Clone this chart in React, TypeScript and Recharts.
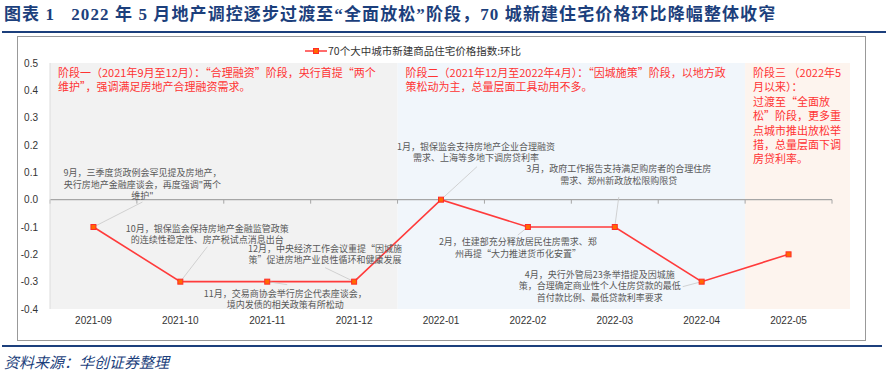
import React from "react";
import {
  LineChart,
  Line,
  XAxis,
  YAxis,
  Legend,
  ReferenceArea,
  ReferenceLine,
  ReferenceDot,
} from "recharts";

// ---------- data ----------
const months = [
  "2021-09",
  "2021-10",
  "2021-11",
  "2021-12",
  "2022-01",
  "2022-02",
  "2022-03",
  "2022-04",
  "2022-05",
];
const momChange = [-0.1, -0.3, -0.3, -0.3, 0.0, -0.1, -0.1, -0.3, -0.2];
const yTicks = [0.5, 0.4, 0.3, 0.2, 0.1, 0.0, -0.1, -0.2, -0.3, -0.4];
const seriesName = "70个大中城市新建商品住宅价格指数:环比";

const titleText =
  "图表 1   2022 年 5 月地产调控逐步过渡至“全面放松”阶段，70 城新建住宅价格环比降幅整体收窄";
const sourceText = "资料来源：华创证券整理";

const stages = [
  {
    from: "2021-09",
    to: "2021-12",
    fill: "#f2f2f2",
    extend: 0,
    lines: [
      "阶段一（2021年9月至12月）：“合理融资”阶段，央行首提“两个",
      "维护”，强调满足房地产合理融资需求。",
    ],
  },
  {
    from: "2022-01",
    to: "2022-04",
    fill: "#f1f6fb",
    extend: 0,
    lines: [
      "阶段二（2021年12月至2022年4月）：“因城施策”阶段，以地方政",
      "策松动为主，总量层面工具动用不多。",
    ],
  },
  {
    from: "2022-05",
    to: "2022-05",
    fill: "#fdf4ee",
    extend: 18,
    lines: [
      "阶段三 （2022年5",
      "月以来）：",
      "过渡至“全面放",
      "松”阶段，更多重",
      "点城市推出放松举",
      "措，总量层面下调",
      "房贷利率。",
    ],
  },
];

const annotations = [
  {
    at: "2021-09",
    value: -0.1,
    tx: 49,
    ty: -54,
    lx: 49,
    ly: -25,
    lines: [
      "9月，三季度货政例会罕见提及房地产，",
      "央行房地产金融座谈会，再度强调\"两个",
      "维护\"",
    ],
  },
  {
    at: "2021-10",
    value: -0.3,
    tx: 27,
    ty: -53,
    lx: 27,
    ly: -35,
    lines: ["10月，银保监会保持房地产金融监管政策", "的连续性稳定性、房产税试点消息出台"],
  },
  {
    at: "2021-12",
    value: -0.3,
    tx: -29,
    ty: -33,
    lx: -29,
    ly: -14,
    lines: ["12月，中央经济工作会议重提“因城施", "策”促进房地产业良性循环和健康发展"],
  },
  {
    at: "2021-11",
    value: -0.3,
    tx: 18,
    ty: 12,
    lx: 20,
    ly: 3,
    lines: ["11月，交易商协会举行房企代表座谈会，", "境内发债的相关政策有所松动"],
  },
  {
    at: "2022-01",
    value: 0.0,
    tx: 35,
    ty: -53,
    lx: 36,
    ly: -33,
    lines: ["1月，银保监会支持房地产企业合理融资", "需求、上海等多地下调房贷利率"],
  },
  {
    at: "2022-03",
    value: -0.1,
    tx: 4,
    ty: -58,
    lx: 4,
    ly: -30,
    lines: ["3月，政府工作报告支持满足购房者的合理住房", "需求、郑州新政放松限购限贷"],
  },
  {
    at: "2022-02",
    value: -0.1,
    tx: -10,
    ty: 15,
    lx: -10,
    ly: 8,
    lines: ["2月，住建部充分释放居民住房需求、郑", "州再提“大力推进货币化安置”"],
  },
  {
    at: "2022-04",
    value: -0.3,
    tx: -102,
    ty: -7,
    lx: -19,
    ly: 5,
    lines: [
      "4月，央行外管局23条举措提及因城施",
      "策，合理确定商业性个人住房贷款的最低",
      "首付款比例、最低贷款利率要求",
    ],
  },
];

const chartData = months.map((m, i) => ({ month: m, value: momChange[i] }));

// ---------- styles ----------
const NAVY = "#1c3f7c";
const RED = "#ff3b3b";
const CJK = "'Noto Sans CJK SC', sans-serif";
const NUM = "'Liberation Sans', Arial, sans-serif";
const W = 889;
const H = 382;

const SquareDot = (props: any) => {
  const { cx, cy } = props;
  if (cx == null || cy == null) return null;
  return (
    <rect
      x={cx - 2.5}
      y={cy - 2.5}
      width={5}
      height={5}
      fill="#ff6a00"
      stroke="#ff2a2a"
      strokeWidth={1}
    />
  );
};

const makeStageShape = (stage: (typeof stages)[number]) => (props: any) => {
  const { x, y, width, height } = props;
  return (
    <g>
      <rect x={x} y={y} width={width + stage.extend} height={height} fill={stage.fill} stroke="none" />
      {stage.lines.map((t, i) => (
        <text
          key={i}
          x={x + 8}
          y={y + 14 + i * 14.4}
          fill="#ff3333"
          fontSize={11}
          fontFamily={CJK}
        >
          {t}
        </text>
      ))}
    </g>
  );
};

const makeAnnotationShape = (a: (typeof annotations)[number]) => (props: any) => {
  const { cx, cy } = props;
  if (cx == null || cy == null) return null;
  return (
    <g>
      <line x1={cx} y1={cy} x2={cx + a.lx} y2={cy + a.ly} stroke="#c8c8c8" strokeWidth={0.8} />
      {a.lines.map((t, i) => (
        <text
          key={i}
          x={cx + a.tx}
          y={cy + a.ty + i * 11.6}
          dy="0.35em"
          textAnchor="middle"
          fill="#595959"
          fontSize={9}
          fontFamily={CJK}
        >
          {t}
        </text>
      ))}
    </g>
  );
};

const ZeroAxisShape = (props: any) => {
  const { x1, x2, y1 } = props;
  if (x1 == null || x2 == null || y1 == null) return null;
  const n = months.length;
  const step = (x2 - x1) / n;
  const ticks = [];
  for (let i = 0; i <= n; i++) {
    ticks.push(
      <line key={i} x1={x1 + i * step} y1={y1} x2={x1 + i * step} y2={y1 + 4} stroke="#a6a6a6" strokeWidth={1} />
    );
  }
  return (
    <g>
      <line x1={x1} y1={y1} x2={x2} y2={y1} stroke="#a6a6a6" strokeWidth={1.2} />
      {ticks}
    </g>
  );
};

const LegendContent = () => (
  <div style={{ display: "flex", alignItems: "center", fontFamily: CJK, fontSize: 10.5, color: "#333" }}>
    <svg width={22} height={10} style={{ marginRight: 1 }}>
      <line x1={0} y1={5} x2={22} y2={5} stroke={RED} strokeWidth={1.5} />
      <rect x={8.5} y={2.5} width={5} height={5} fill="#ff6a00" stroke="#ff2a2a" strokeWidth={1} />
    </svg>
    <span>{seriesName}</span>
  </div>
);

export default function App() {
  return (
    <div style={{ position: "absolute", left: 0, top: 0, width: W, height: H, background: "#fff", overflow: "hidden" }}>
      {/* title */}
      <div
        style={{
          position: "absolute",
          left: 4,
          top: 3,
          fontFamily: "'Liberation Serif', 'DejaVu Serif', 'Noto Sans CJK SC', serif",
          fontWeight: "bold",
          fontSize: 17,
          letterSpacing: 1.1,
          color: NAVY,
          whiteSpace: "pre",
          lineHeight: "24px",
        }}
      >
        {titleText}
      </div>
      <div style={{ position: "absolute", left: 2, top: 31, width: 884, height: 1.5, background: NAVY }} />
      {/* frame */}
      <div
        style={{
          position: "absolute",
          left: 17,
          top: 36,
          width: 849,
          height: 305,
          border: "1px solid #999",
          boxSizing: "border-box",
        }}
      />
      <div style={{ position: "absolute", left: 0, top: 0 }}>
        <LineChart
          width={W}
          height={H}
          data={chartData}
          margin={{ top: 63, right: 57, bottom: 43, left: 0 }}
        >
          {stages.map((s, i) => (
            <ReferenceArea
              key={"st" + i}
              x1={s.from}
              x2={s.to}
              ifOverflow="visible"
              shape={makeStageShape(s)}
            />
          ))}
          <XAxis
            dataKey="month"
            scale="band"
            axisLine={false}
            tickLine={false}
            height={30}
            interval={0}
            tick={{ fill: "#333", fontSize: 10, fontFamily: NUM }}
          />
          <YAxis
            domain={[-0.4, 0.5]}
            ticks={yTicks}
            interval={0}
            width={50}
            tickLine={false}
            axisLine={{ stroke: "#dcdcdc" }}
            tickMargin={6}
            tickFormatter={(v: number) => v.toFixed(1)}
            tick={{ fill: "#333", fontSize: 10, fontFamily: NUM }}
          />
          <ReferenceLine y={0} shape={ZeroAxisShape} />
          {annotations.map((a, i) => (
            <ReferenceDot
              key={"an" + i}
              x={a.at}
              y={a.value}
              r={0}
              ifOverflow="visible"
              shape={makeAnnotationShape(a)}
            />
          ))}
          <Legend
            verticalAlign="middle"
            align="center"
            layout="horizontal"
            wrapperStyle={{ top: 43, left: 305, width: "auto" }}
            content={LegendContent}
          />
          <Line
            type="linear"
            dataKey="value"
            name={seriesName}
            stroke={RED}
            strokeWidth={1.6}
            dot={<SquareDot />}
            activeDot={false}
            isAnimationActive={false}
          />
        </LineChart>
      </div>
      {/* footer */}
      <div style={{ position: "absolute", left: 2, top: 345, width: 880, height: 1.5, background: NAVY }} />
      <div
        style={{
          position: "absolute",
          left: 4,
          top: 351,
          fontFamily: CJK,
          fontStyle: "italic",
          fontSize: 15,
          color: NAVY,
          lineHeight: "21px",
        }}
      >
        {sourceText}
      </div>
    </div>
  );
}
